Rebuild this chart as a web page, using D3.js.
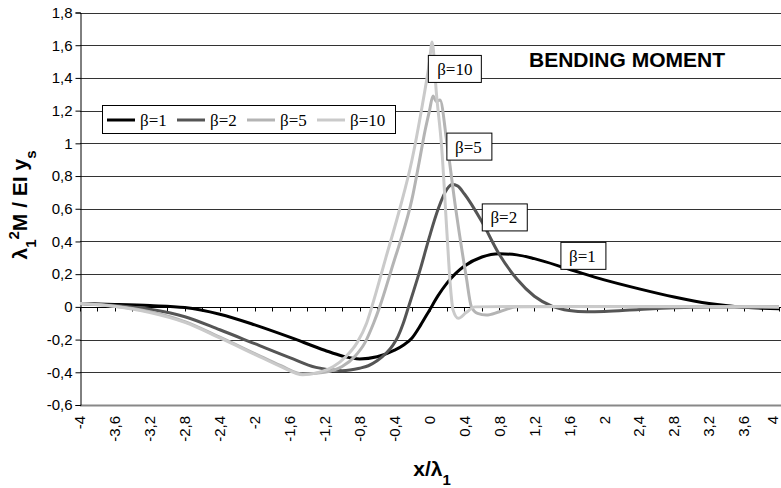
<!DOCTYPE html>
<html>
<head>
<meta charset="utf-8">
<script src="https://cdn.jsdelivr.net/npm/d3@7"></script>
<style>
body { margin: 0; background: #fff; }
text { font-family: "Liberation Sans", Arial, sans-serif; }
.beta { font-family: "Liberation Serif", "Times New Roman", serif; }
</style>
</head>
<body>
<svg id="chart" width="781" height="488"></svg>
<script>
// series, [x/lambda1, moment]
var beta1 = [[-4,0.02],[-3.6,0.015],[-3.2,0.008],[-2.8,-0.004],[-2.4,-0.045],[-2.0,-0.11],[-1.6,-0.185],
	[-1.2,-0.265],[-1.0,-0.3],[-0.8,-0.318],[-0.6,-0.305],[-0.4,-0.265],[-0.3,-0.235],[-0.2,-0.19],
	[-0.1,-0.11],[0,-0.02],[0.1,0.07],[0.2,0.145],[0.3,0.205],[0.4,0.25],[0.6,0.305],[0.8,0.325],
	[1.0,0.318],[1.2,0.295],[1.6,0.23],[2.0,0.165],[2.4,0.11],[2.8,0.06],[3.2,0.02],[3.6,-0.003],[4.0,-0.012]];
var beta2 = [[-4,0.02],[-3.6,0.008],[-3.2,-0.015],[-2.8,-0.06],[-2.4,-0.14],[-2.0,-0.225],[-1.6,-0.31],
	[-1.3,-0.37],[-1.0,-0.39],[-0.8,-0.375],[-0.7,-0.36],[-0.6,-0.33],[-0.5,-0.285],[-0.42,-0.235],
	[-0.36,-0.18],[-0.3,-0.1],[-0.24,0],[-0.1,0.24],[0,0.43],[0.1,0.6],[0.2,0.72],[0.26,0.748],
	[0.32,0.74],[0.4,0.69],[0.6,0.52],[0.8,0.32],[1.0,0.17],[1.2,0.065],[1.4,0.005],[1.6,-0.022],
	[1.8,-0.03],[2.0,-0.028],[2.4,-0.016],[2.8,-0.006],[3.2,-0.001],[4,0]];
var beta5 = [[-4,0.02],[-3.6,0.004],[-3.2,-0.03],[-2.8,-0.09],[-2.4,-0.185],[-2.0,-0.285],[-1.7,-0.36],
	[-1.45,-0.41],[-1.2,-0.4],[-1.0,-0.365],[-0.85,-0.3],[-0.74,-0.22],[-0.64,-0.1],[-0.57,0],
	[-0.4,0.29],[-0.34,0.39],[-0.2,0.66],[-0.12,0.88],[-0.05,1.08],[0,1.2],[0.04,1.29],[0.08,1.255],
	[0.12,1.265],[0.2,1.0],[0.3,0.6],[0.42,0.185],[0.48,0.0],[0.55,-0.04],[0.65,-0.05],[0.8,-0.03],
	[1.0,0],[1.6,0.002],[4,0]];
var beta10 = [[-4,0.02],[-3.6,0.002],[-3.2,-0.035],[-2.8,-0.095],[-2.4,-0.19],[-2.0,-0.29],[-1.7,-0.365],
	[-1.45,-0.415],[-1.3,-0.405],[-1.1,-0.365],[-0.95,-0.3],[-0.83,-0.22],[-0.72,-0.1],[-0.66,0],
	[-0.5,0.3],[-0.34,0.6],[-0.2,0.9],[-0.1,1.18],[0,1.5],[0.03,1.62],[0.08,1.3],[0.14,0.97],[0.2,0.45],
	[0.24,0.12],[0.27,-0.02],[0.33,-0.07],[0.42,-0.035],[0.52,0],[1,0.002],[4,0]];

var seriesNames = ["β=1", "β=2", "β=5", "β=10"];
var seriesData = [beta1, beta2, beta5, beta10];
var seriesColors = ["#000000", "#555555", "#b4b4b4", "#cacaca"];

// label boxes on the curves, in data units
var labelX = [1.75, 0.85, 0.445, 0.29];
var labelY = [0.312, 0.547, 0.98, 1.455];

var yTicks = [-0.6,-0.4,-0.2,0,0.2,0.4,0.6,0.8,1,1.2,1.4,1.6,1.8];
var xLabels = [-4,-3.6,-3.2,-2.8,-2.4,-2,-1.6,-1.2,-0.8,-0.4,0,0.4,0.8,1.2,1.6,2,2.4,2.8,3.2,3.6,4];
var xMinorTicks = d3.range(-4, 4.001, 0.2);

var svg = d3.select("#chart");
var x = d3.scaleLinear().domain([-4, 4]).range([80, 779]);
var y = d3.scaleLinear().domain([-0.6, 1.8]).range([405, 12.5]);
var comma = function(v) { return String(+v.toFixed(1)).replace(".", ","); };

// gridlines
svg.append("g").selectAll("line")
	.data(yTicks.filter(function(d) { return d != 0 && d != -0.6; }))
	.join("line")
	.attr("x1", 80).attr("x2", 781)
	.attr("y1", function(d) { return Math.round(y(d)) + 0.5; })
	.attr("y2", function(d) { return Math.round(y(d)) + 0.5; })
	.attr("stroke", "#333").attr("stroke-width", 1);

// bottom edge of plot area
svg.append("line")
	.attr("x1", 80).attr("x2", 781)
	.attr("y1", Math.round(y(-0.6)) + 0.5).attr("y2", Math.round(y(-0.6)) + 0.5)
	.attr("stroke", "#888").attr("stroke-width", 2);

// y axis
var yAxis = svg.append("g").attr("transform", "translate(80.5,0)")
	.call(d3.axisLeft(y).tickValues(yTicks).tickSize(5).tickFormat(comma));
yAxis.select(".domain").attr("stroke", "#000");
yAxis.selectAll(".tick line").attr("stroke", "#000");
yAxis.selectAll(".tick text").attr("font-size", 15).attr("fill", "#000")
	.attr("font-family", "Liberation Sans, Arial, sans-serif").attr("x", -8);

// x axis on the zero line
var y0 = Math.round(y(0)) + 0.5;
svg.append("line").attr("x1", 80).attr("x2", 781).attr("y1", y0).attr("y2", y0)
	.attr("stroke", "#000");
svg.append("g").selectAll("line").data(xMinorTicks).join("line")
	.attr("x1", function(d) { return Math.round(x(d)) + 0.5; })
	.attr("x2", function(d) { return Math.round(x(d)) + 0.5; })
	.attr("y1", y0).attr("y2", y0 + 4)
	.attr("stroke", "#000");

// x tick labels, rotated, under the plot
svg.append("g").selectAll("text").data(xLabels).join("text")
	.attr("transform", function(d) { return "translate(" + Math.min(x(d), 773) + ",416) rotate(-90)"; })
	.attr("text-anchor", "end")
	.attr("dy", "0.35em")
	.attr("font-size", 15)
	.text(comma);

// curves
var line = d3.line()
	.x(function(d) { return x(d[0]); })
	.y(function(d) { return y(d[1]); })
	.curve(d3.curveMonotoneX);

svg.append("g").selectAll("path").data(seriesData).join("path")
	.attr("d", line)
	.attr("fill", "none")
	.attr("stroke", function(d, i) { return seriesColors[i]; })
	.attr("stroke-width", 3)
	.attr("stroke-linejoin", "round");

// labels on the curves
var labels = svg.append("g").selectAll("g").data(seriesNames).join("g")
	.attr("transform", function(d, i) { return "translate(" + x(labelX[i]) + "," + y(labelY[i]) + ")"; });
labels.append("text")
	.attr("class", "beta")
	.attr("text-anchor", "middle")
	.attr("dy", "0.35em")
	.attr("font-size", 17)
	.text(function(d) { return d; });
labels.each(function() {
	var g = d3.select(this);
	var bb = g.select("text").node().getBBox();
	g.insert("rect", "text")
		.attr("x", Math.round(bb.x - 9) + 0.5).attr("y", -13.5)
		.attr("width", Math.round(bb.width + 18)).attr("height", 27)
		.attr("fill", "#fff").attr("stroke", "#000");
});

// legend
var legend = svg.append("g").attr("transform", "translate(102,105)");
legend.append("rect")
	.attr("x", 0.5).attr("y", 0.5).attr("width", 293).attr("height", 28)
	.attr("fill", "#fff").attr("stroke", "#000");
var item = legend.selectAll("g.item").data(seriesNames).join("g")
	.attr("class", "item")
	.attr("transform", function(d, i) { return "translate(" + (5 + i * 70) + ",15)"; });
item.append("line")
	.attr("x1", 0).attr("x2", 28)
	.attr("stroke", function(d, i) { return seriesColors[i]; })
	.attr("stroke-width", 3);
item.append("text")
	.attr("class", "beta")
	.attr("x", 33).attr("dy", "0.35em")
	.attr("font-size", 17)
	.text(function(d) { return d; });

// title
svg.append("text")
	.attr("x", 627).attr("y", 67)
	.attr("text-anchor", "middle")
	.attr("font-size", 21).attr("font-weight", "bold")
	.text("BENDING MOMENT");

// axis titles
var xt = svg.append("text")
	.attr("x", 432).attr("y", 476)
	.attr("text-anchor", "middle")
	.attr("font-size", 21).attr("font-weight", "bold");
xt.append("tspan").text("x/λ");
xt.append("tspan").attr("baseline-shift", "sub").attr("font-size", 15).text("1");

var yt = svg.append("text")
	.attr("transform", "translate(27,205) rotate(-90)")
	.attr("text-anchor", "middle")
	.attr("font-size", 21).attr("font-weight", "bold");
yt.append("tspan").text("λ");
yt.append("tspan").attr("baseline-shift", "sub").attr("font-size", 15).text("1");
yt.append("tspan").attr("baseline-shift", "super").attr("font-size", 15).text("2");
yt.append("tspan").text("M / EI y");
yt.append("tspan").attr("baseline-shift", "sub").attr("font-size", 15).text("s");
</script>
</body>
</html>
